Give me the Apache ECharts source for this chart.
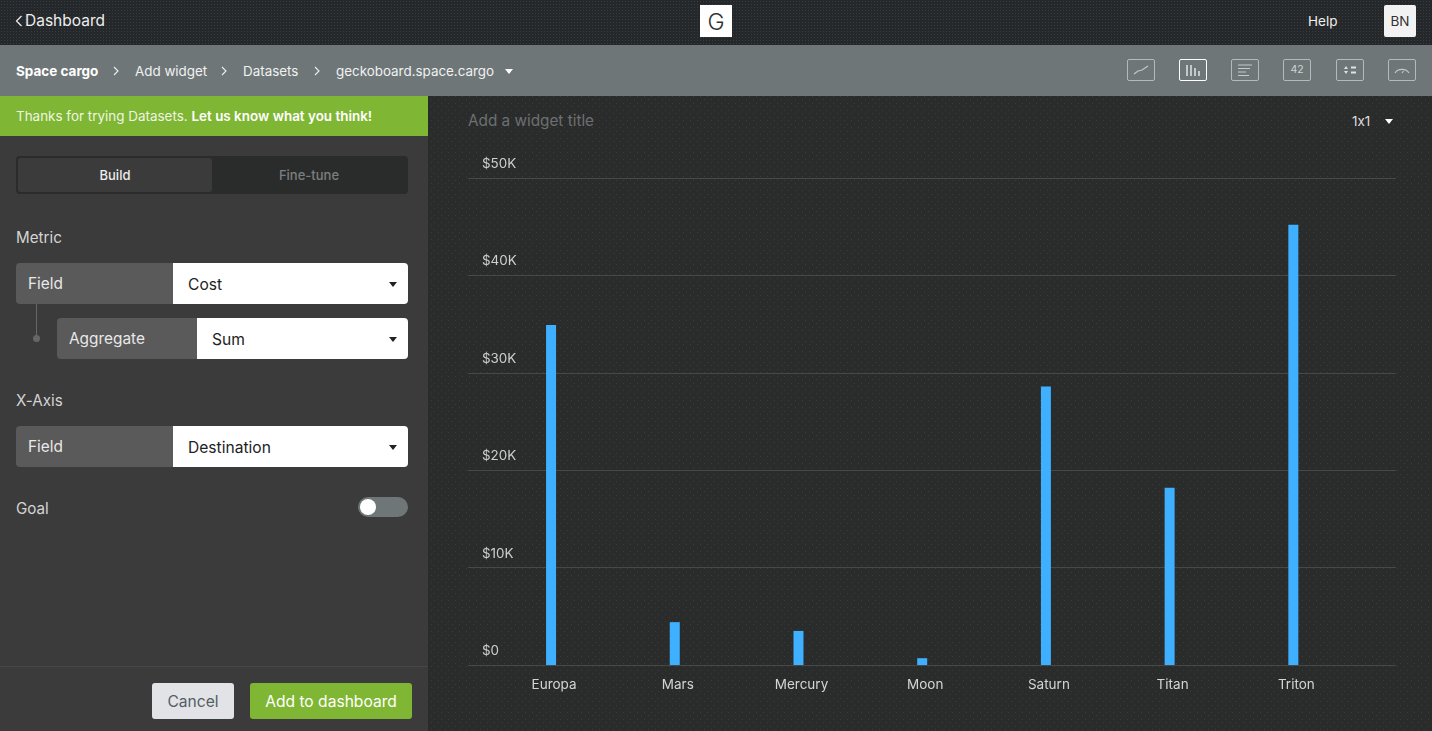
<!DOCTYPE html>
<html>
<head>
<meta charset="utf-8">
<title>Space cargo</title>
<script src="https://cdn.jsdelivr.net/npm/echarts@6/dist/echarts.min.js"></script>
<style>
html, body { margin: 0; padding: 0; width: 1432px; height: 731px; overflow: hidden; background: #2a2c2c; font-family: Inter, Roboto, sans-serif; font-size: 14px; color: #e6e6e6; font-feature-settings: "calt" 0; }
.abs { position: absolute; white-space: nowrap; }
.topbar { left: 0; top: 0; width: 1432px; height: 45px; background-color: #25282a; background-image: radial-gradient(#3a3d3f 0.6px, transparent 0.7px); background-size: 3px 3px; }
.crumbs { left: 0; top: 45px; width: 1432px; height: 51px; background: #6f7678; }
.side { left: 0; top: 96px; width: 428px; height: 635px; background: #3b3b3b; }
.main { left: 428px; top: 96px; width: 1004px; height: 635px; background-color: #2a2c2c; background-image: radial-gradient(#393c3c 0.6px, transparent 0.7px), radial-gradient(#393c3c 0.6px, transparent 0.7px); background-size: 7px 7px; background-position: 0 0, 3px 4px; }
.banner { left: 0; top: 96px; width: 428px; height: 40px; background: #7fb633; color: #eef5e2; line-height: 40px; padding-left: 16px; box-sizing: border-box; font-size: 13.45px; }
.banner b { color: #fff; font-weight: 600; }
.tabs { left: 16px; top: 156px; width: 392px; height: 38px; background: #2a2c2c; border-radius: 4px; }
.tab-on { left: 18px; top: 158px; width: 194px; height: 34px; background: #3b3b3b; border-radius: 3px; text-align: center; line-height: 34px; font-size: 13px; font-weight: 500; color: #eee; }
.tab-off { left: 212px; top: 158px; width: 194px; height: 34px; text-align: center; line-height: 34px; font-size: 13px; font-weight: 500; color: #7c7e7e; }
.lbl { font-size: 15.2px; color: #d4d4d4; }
.key { background: #5a5a5a; color: #e8e8e8; font-size: 15.4px; height: 41px; line-height: 41px; padding-left: 12px; box-sizing: border-box; border-radius: 4px 0 0 4px; }
.val { background: #fff; color: #222; font-size: 15.6px; height: 41px; line-height: 43px; padding-left: 15px; box-sizing: border-box; border-radius: 0 4px 4px 0; }
.caret { width: 0; height: 0; border-left: 4.5px solid transparent; border-right: 4.5px solid transparent; border-top: 5px solid #fff; }
.caret.dark { border-top-color: #222; }
.crumb { font-size: 13.4px; color: #f0f2f2; line-height: 20px; top: 61px; }
.ico { top: 59px; width: 28px; height: 22px; border: 1px solid #b4b9ba; border-radius: 2px; box-sizing: border-box; }
.ico svg { display: block; width: 28px; height: 22px; margin: -1px; }
.ico.on { border-color: #fff; }
</style>
</head>
<body>
<div class="abs topbar"></div>
<div class="abs crumbs"></div>
<div class="abs side"></div>
<div class="abs main"></div>

<!-- top bar -->
<svg class="abs" style="left:15px;top:14px" width="8" height="14"><path d="M6.5 2 L1.5 7 L6.5 12" fill="none" stroke="#eee" stroke-width="1.2"/></svg>
<div class="abs" style="left:25px;top:11px;font-size:15.5px;line-height:20px;color:#eee">Dashboard</div>
<div class="abs" style="left:700px;top:5px;width:32px;height:32px;background:#fff;color:#333;text-align:center;line-height:35px;font-size:23px;font-weight:300">G</div>
<div class="abs" style="left:1308px;top:12px;font-size:13.5px;line-height:18px;color:#eee">Help</div>
<div class="abs" style="left:1384px;top:5px;width:32px;height:32px;background:#f2f2f2;color:#333;text-align:center;line-height:32px;font-size:13.5px;border-radius:2px">BN</div>

<!-- breadcrumb -->
<div class="abs crumb" style="left:16px;font-weight:700;color:#fff;font-size:13.5px">Space cargo</div>
<div class="abs crumb" style="left:135px">Add widget</div>
<div class="abs crumb" style="left:243px">Datasets</div>
<div class="abs crumb" style="left:336px">geckoboard.space.cargo</div>
<svg class="abs" style="left:113px;top:66px" width="7" height="11"><path d="M1 1 L5 5 L1 9" fill="none" stroke="#eee" stroke-width="1.1"/></svg>
<svg class="abs" style="left:221px;top:66px" width="7" height="11"><path d="M1 1 L5 5 L1 9" fill="none" stroke="#eee" stroke-width="1.1"/></svg>
<svg class="abs" style="left:314px;top:66px" width="7" height="11"><path d="M1 1 L5 5 L1 9" fill="none" stroke="#eee" stroke-width="1.1"/></svg>
<div class="abs caret" style="left:505px;top:69px"></div>

<!-- widget type icons -->
<div class="abs ico" style="left:1127px"><svg viewBox="0 0 28 22"><path d="M7 15 L11 12 L15 11 L21 7" fill="none" stroke="#c4c8c9" stroke-width="1.2"/></svg></div>
<div class="abs ico on" style="left:1179px"><svg viewBox="0 0 28 22"><path d="M8 6 V17 M12 6 V17 M16 9 V17 M20 12 V17" fill="none" stroke="#fff" stroke-width="1.2"/></svg></div>
<div class="abs ico" style="left:1231px"><svg viewBox="0 0 28 22"><path d="M7 6 H21 M7 9.5 H19 M7 13 H15 M7 16.5 H18" fill="none" stroke="#c4c8c9" stroke-width="1.2"/></svg></div>
<div class="abs ico" style="left:1283px;color:#d0d4d5;font-size:10.5px;text-align:center;line-height:20px">42</div>
<div class="abs ico" style="left:1336px"><svg viewBox="0 0 28 22"><path d="M8 10 L10 7 L12 10 Z M8 12 L12 12 L10 15 Z" fill="#dfe2e2"/><path d="M15 8.5 H20 M15 13.5 H20" fill="none" stroke="#dfe2e2" stroke-width="2.2"/></svg></div>
<div class="abs ico" style="left:1388px"><svg viewBox="0 0 28 22"><path d="M7 14 A8 7 0 0 1 21 14 M14 14 L15.5 12" fill="none" stroke="#c4c8c9" stroke-width="1.2"/></svg></div>

<!-- left panel -->
<div class="abs banner">Thanks for trying Datasets. <b>Let us know what you think!</b></div>
<div class="abs tabs"></div>
<div class="abs tab-on">Build</div>
<div class="abs tab-off">Fine-tune</div>

<div class="abs lbl" style="left:16px;top:228px">Metric</div>
<div class="abs key" style="left:16px;top:263px;width:157px">Field</div>
<div class="abs val" style="left:173px;top:263px;width:235px">Cost</div>
<div class="abs caret dark" style="left:389px;top:282px"></div>
<div class="abs" style="left:36px;top:304px;width:1px;height:32px;background:#666"></div>
<div class="abs" style="left:33px;top:335px;width:7px;height:7px;border-radius:50%;background:#666"></div>
<div class="abs key" style="left:57px;top:318px;width:140px">Aggregate</div>
<div class="abs val" style="left:197px;top:318px;width:211px">Sum</div>
<div class="abs caret dark" style="left:389px;top:337px"></div>

<div class="abs lbl" style="left:16px;top:391px">X-Axis</div>
<div class="abs key" style="left:16px;top:426px;width:157px">Field</div>
<div class="abs val" style="left:173px;top:426px;width:235px">Destination</div>
<div class="abs caret dark" style="left:389px;top:445px"></div>

<div class="abs lbl" style="left:16px;top:499px">Goal</div>
<div class="abs" style="left:358px;top:497px;width:50px;height:20px;border-radius:10px;background:#6f7678"></div>
<div class="abs" style="left:360px;top:499px;width:16px;height:16px;border-radius:50%;background:#fff"></div>

<div class="abs" style="left:0;top:666px;width:428px;height:1px;background:#464646"></div>
<div class="abs" style="left:152px;top:683px;width:82px;height:36px;background:#e1e3e6;color:#555d65;border-radius:3px;text-align:center;line-height:37px;font-size:15.6px">Cancel</div>
<div class="abs" style="left:250px;top:683px;width:162px;height:36px;background:#7fb633;color:#fff;border-radius:3px;text-align:center;line-height:37px;font-size:15.6px">Add to dashboard</div>

<!-- widget header -->
<div class="abs" style="left:468px;top:111px;font-size:15.3px;line-height:20px;color:#6d7070">Add a widget title</div>
<div class="abs" style="left:1352px;top:112px;font-size:13.5px;line-height:18px;color:#ddd">1x1</div>
<div class="abs caret" style="left:1385px;top:119px"></div>

<div class="abs" id="chart" style="left:428px;top:96px;width:1004px;height:635px"></div>

<script>
var categories = ['Europa', 'Mars', 'Mercury', 'Moon', 'Saturn', 'Titan', 'Triton'];
var costValues = [34900, 4400, 3500, 700, 28600, 18200, 45200];
var yTicks = [0, 10000, 20000, 30000, 40000, 50000];

var chartDom = document.getElementById('chart');
var myChart = echarts.init(chartDom);

var option = {
    animation: false,
    backgroundColor: 'transparent',
    textStyle: { fontFamily: 'Inter, Roboto, sans-serif' },
    // first grid carries the full-width rules, second one the bars
    grid: [
        { left: 40, right: 36, top: 82, bottom: 66 },
        { left: 61.2, right: 76.8, top: 82, bottom: 66 }
    ],
    xAxis: [
        { type: 'value', gridIndex: 0, min: 0, max: 1, show: false },
        {
            type: 'category',
            gridIndex: 1,
            data: categories,
            axisLine: { show: false },
            axisTick: { show: false },
            axisLabel: { color: '#d4d4d4', fontSize: 13.5, margin: 13, padding: [0, 0, 0, 6] }
        }
    ],
    yAxis: [
        {
            type: 'value',
            gridIndex: 0,
            min: yTicks[0],
            max: yTicks[yTicks.length - 1],
            interval: 10000,
            axisLine: { show: false },
            axisTick: { show: false },
            splitLine: { lineStyle: { color: '#474949', width: 1 } },
            axisLabel: {
                inside: true,
                margin: 14,
                verticalAlign: 'bottom',
                lineHeight: 28,
                color: '#cfcfcf',
                fontSize: 13.4,
                formatter: function (v) { return '$' + v / 1000 + (v ? 'K' : ''); }
            }
        },
        {
            type: 'value',
            gridIndex: 1,
            min: yTicks[0],
            max: yTicks[yTicks.length - 1],
            interval: 10000,
            show: false
        }
    ],
    series: [{
        type: 'bar',
        xAxisIndex: 1,
        yAxisIndex: 1,
        barWidth: 10,
        itemStyle: { color: '#3eb0ff' },
        data: costValues
    }]
};
myChart.setOption(option);
</script>
</body>
</html>
